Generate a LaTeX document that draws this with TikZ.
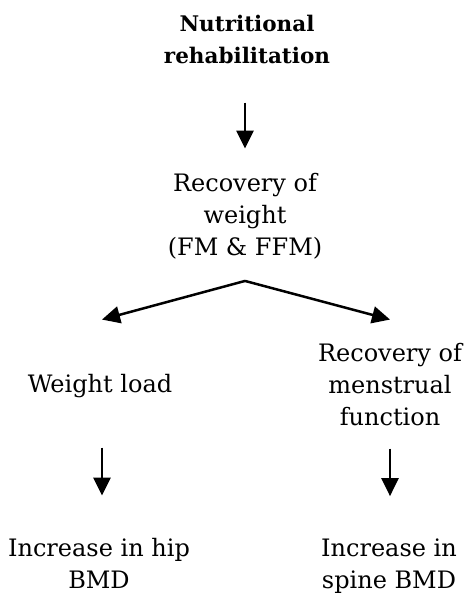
\documentclass[tikz,border=0pt]{standalone}
\usepackage{fontspec}
\setmainfont{DejaVu Serif}
\usetikzlibrary{arrows.meta,calc}
\begin{document}
\begin{tikzpicture}[x=1pt,y=1pt,
  txt/.style={align=center,inner sep=0pt,anchor=base,font=\fontsize{24}{32}\selectfont},
  ttl/.style={txt,font=\fontsize{21.5}{32}\selectfont\bfseries},
  arr/.style={line width=2.5pt,-{Triangle[width=17pt,length=18pt]}}]
\useasboundingbox (0,0) rectangle (469,-593);
% text blocks (placed by the baseline of their last line)
\node[ttl] (nut) at (247,-64) {Nutritional\\rehabilitation};
\node[txt] (rw) at (245,-255) {Recovery of\\weight\\(FM \& FFM)};
\node[txt] (wl) at (100,-392) {Weight load};
\node[txt] (rm) at (390,-425) {Recovery of\\menstrual\\function};
\node[txt] (hip) at (99,-588) {Increase in hip\\BMD};
\node[txt] (spine) at (389,-588) {Increase in\\spine BMD};
% connectors
\draw[arr,shorten <=38pt,shorten >=24pt] (rw.north |- nut.south) -- (rw.north);
\coordinate (fork) at ($(rw.south)+(0,-22)$);
\coordinate (tipl) at ($(wl.north)+(2,54)$);
\coordinate (tipr) at (rm.north |- tipl);
\draw[arr] (fork) -- (tipl);
\draw[arr] (fork) -- (tipr);
\draw[arr,shorten <=50pt,shorten >=42pt] ([xshift=2pt]wl.south) -- ([xshift=2pt]wl.south |- hip.north);
\draw[arr,shorten <=23pt,shorten >=42pt] (rm.south) -- (rm.south |- spine.north);
\end{tikzpicture}
\end{document}
